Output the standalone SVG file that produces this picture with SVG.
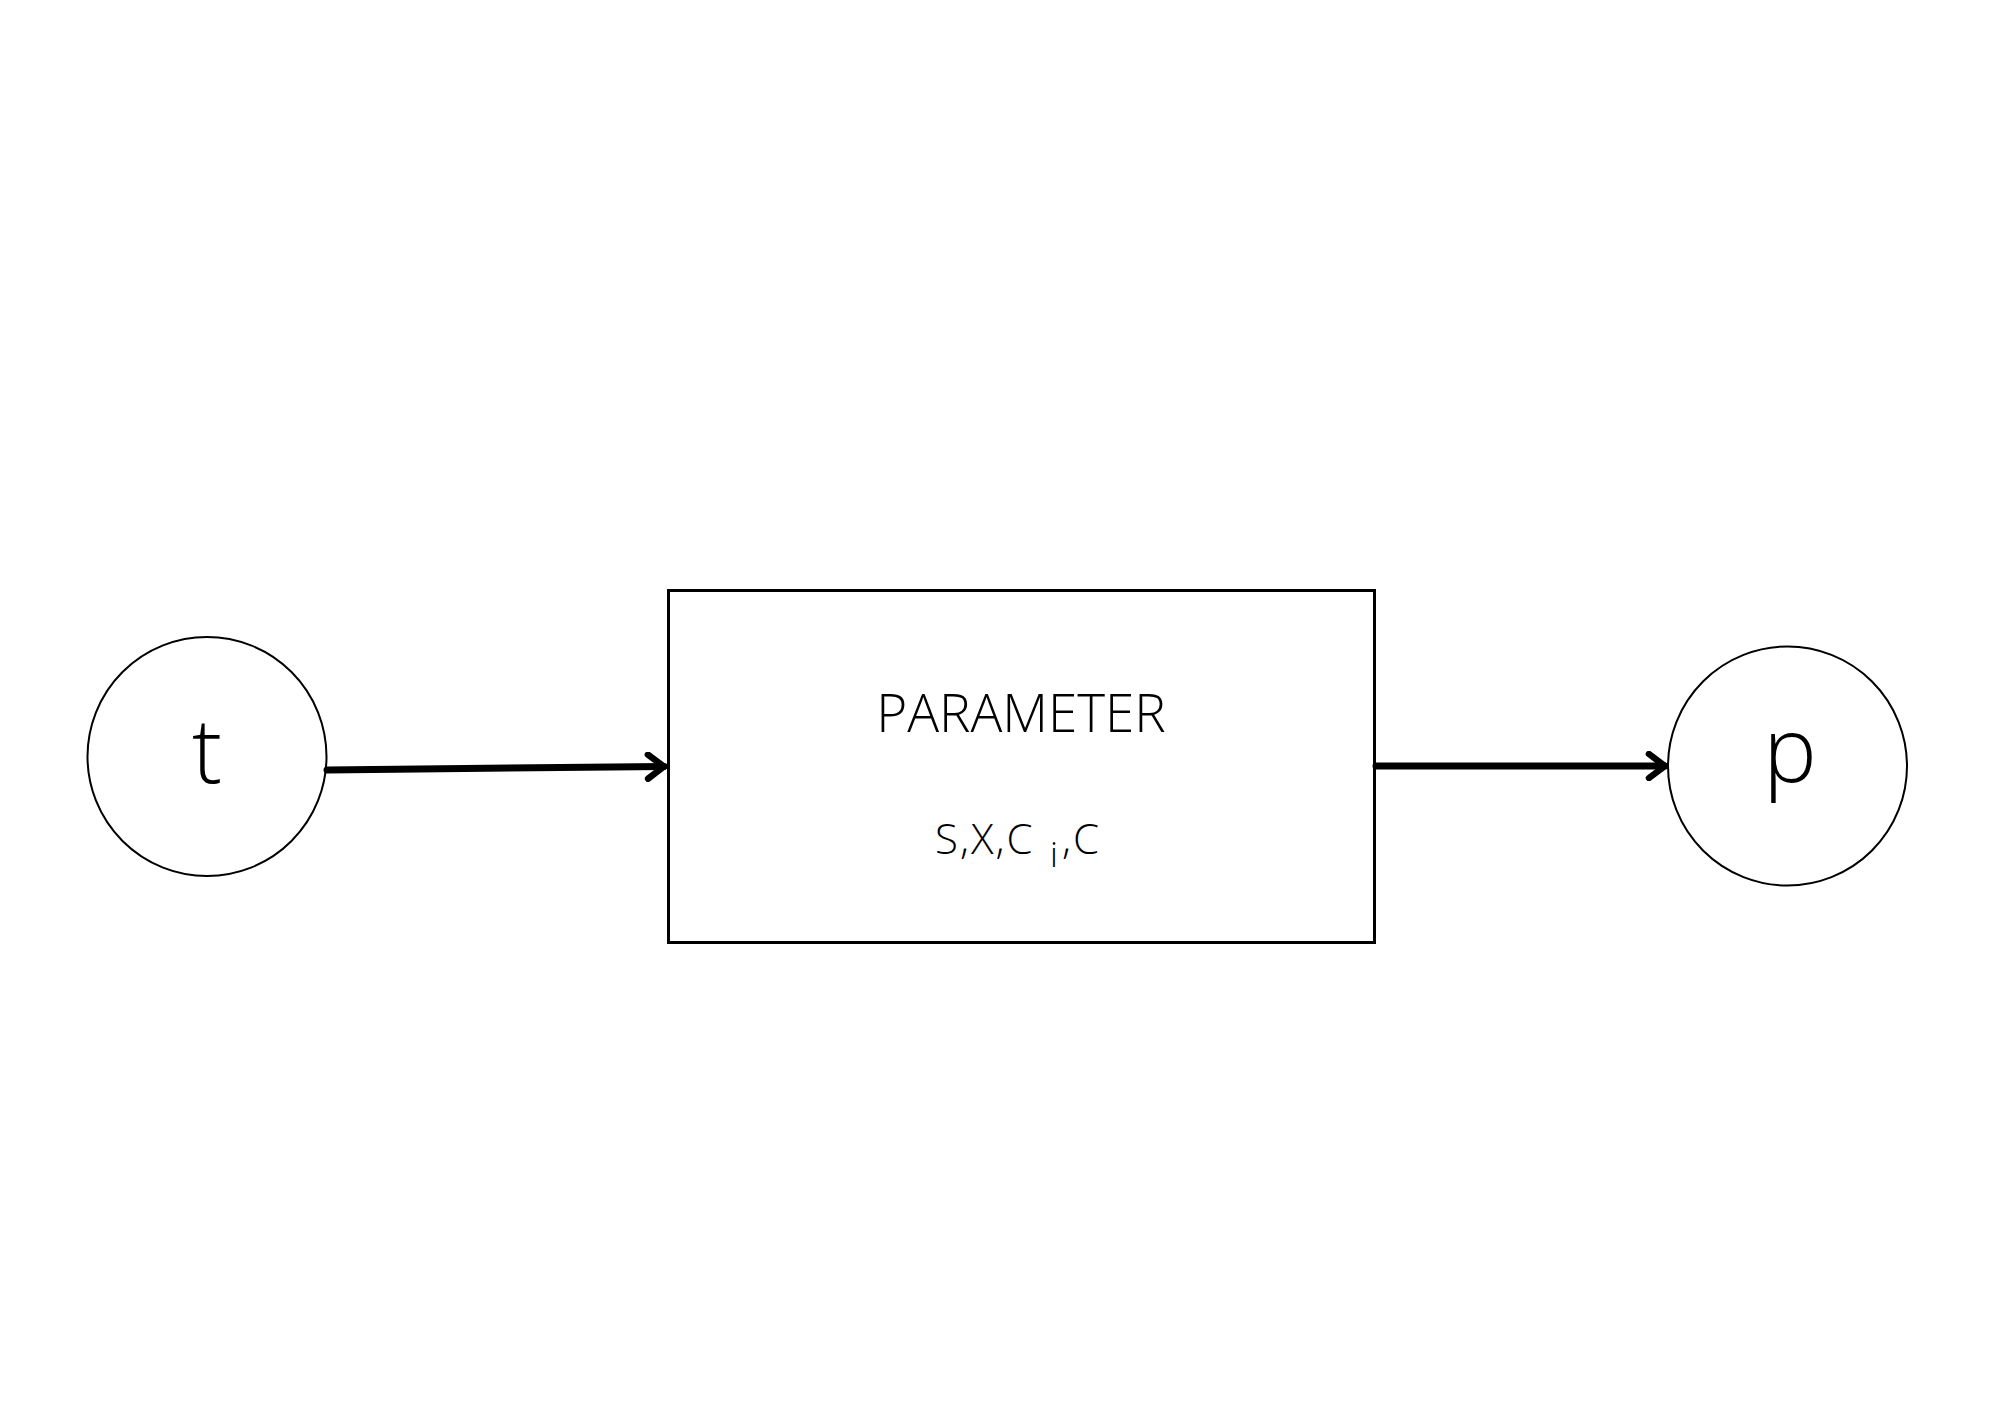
<svg xmlns="http://www.w3.org/2000/svg" width="2000" height="1415" viewBox="0 0 2000 1415">
  <style>
    .node { fill: #ffffff; stroke: #000000; stroke-width: 2; }
    .box { fill: #ffffff; stroke: #000000; stroke-width: 3; }
    .lbl { font-family: "Open Sans", "Liberation Sans", sans-serif; font-weight: 300; fill: #000000; text-anchor: middle; }
    .sub { font-family: "Open Sans", "Liberation Sans", sans-serif; font-weight: 300; fill: #000000; letter-spacing: 2px; }
    .edge { fill: none; stroke: #000000; stroke-width: 7; stroke-linecap: round; }
  </style>
  <defs>
    <marker id="arrow" viewBox="0 0 30 30" refX="26" refY="15" markerWidth="30" markerHeight="30" markerUnits="userSpaceOnUse" orient="auto">
      <path d="M 10 3 L 26 15 L 10 27" fill="none" stroke="#000000" stroke-width="6.5" stroke-linecap="round" stroke-linejoin="round"/>
    </marker>
  </defs>
  <rect width="2000" height="1415" fill="#ffffff"/>
  <g id="node-t">
    <circle class="node" cx="207" cy="756.5" r="119.5"/>
    <text class="lbl" x="207" y="783" font-size="90">t</text>
  </g>
  <g id="node-parameter">
    <rect class="box" x="668.5" y="590.5" width="706" height="352"/>
    <text class="lbl" x="1021" y="732" font-size="53">PARAMETER</text>
    <text class="sub" x="935" y="854" font-size="42">S,X,C<tspan x="1050" dy="13" font-size="35">i</tspan><tspan x="1062" dy="-13">,C</tspan></text>
  </g>
  <g id="node-p">
    <circle class="node" cx="1787.5" cy="766" r="119.5"/>
    <text class="lbl" x="1790" y="782" font-size="90">p</text>
  </g>
  <g id="connectors">
    <line class="edge" x1="327" y1="770" x2="664" y2="766.5" marker-end="url(#arrow)"/>
    <line class="edge" x1="1376" y1="766" x2="1665" y2="766" marker-end="url(#arrow)"/>
  </g>
</svg>
